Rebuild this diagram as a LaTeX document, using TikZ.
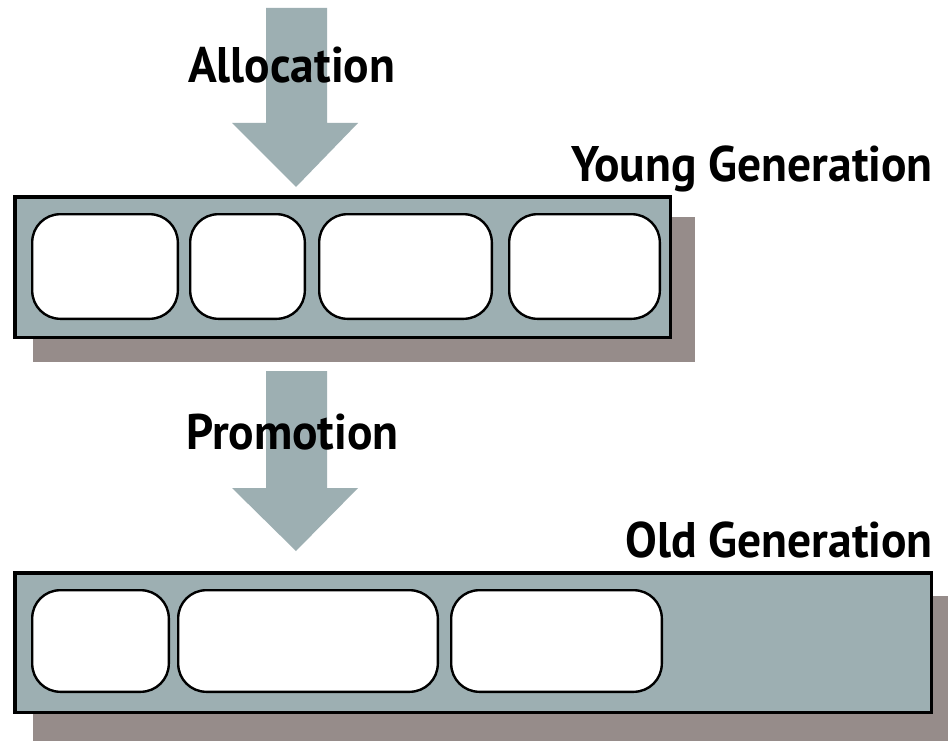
\documentclass[tikz,border=0pt]{standalone}
\usepackage{fontspec}
\setmainfont{PT Sans}[FakeStretch=0.95]
\definecolor{heapfill}{RGB}{157,175,178}
\definecolor{heapshadow}{RGB}{150,140,138}
\begin{document}
\begin{tikzpicture}[x=1pt,y=-1pt,
  genbox/.style={draw=black,line width=3.5pt,fill=heapfill},
  shadowbox/.style={fill=heapshadow},
  cell/.style={draw=black,line width=2.4pt,fill=white,rounded corners=28pt},
  flowarrow/.style={fill=heapfill},
  genlabel/.style={font=\bfseries\fontsize{50}{50}\selectfont,inner sep=0pt,text=black}]
\useasboundingbox (0,0) rectangle (948,741);
\fill[white] (0,0) rectangle (948,741);

% allocation arrow into the young generation
\fill[flowarrow] (266,8) -- (327,8) -- (327,123) -- (358,123) -- (296,187) -- (232,123) -- (266,123) -- cycle;
\node[genlabel,anchor=base west] (alloc) at (188,83) {Allocation};

% young generation
\fill[shadowbox] (33,217) rectangle (695,362);
\draw[genbox] (14.75,196.75) rectangle (670.25,337.25);
\node[genlabel,anchor=base east] (young) at (933,182) {Young Generation};
\draw[cell] (32.2,214.2) rectangle (177.8,318.8);
\draw[cell] (190.2,214.2) rectangle (304.8,318.8);
\draw[cell] (319.2,214.2) rectangle (491.8,318.8);
\draw[cell] (509.2,214.2) rectangle (659.8,318.8);

% promotion arrow into the old generation
\fill[flowarrow] (266,371) -- (327,371) -- (327,488) -- (358,488) -- (296,551) -- (232,488) -- (266,488) -- cycle;
\node[genlabel,anchor=base west] (promo) at (186,449) {Promotion};

% old generation
\fill[shadowbox] (33,596) rectangle (948,741);
\draw[genbox] (14.75,572.75) rectangle (931.25,712.25);
\node[genlabel,anchor=base east] (old) at (933,557) {Old Generation};
\draw[cell] (32.2,590.2) rectangle (168.8,691.8);
\draw[cell] (178.2,590.2) rectangle (437.8,691.8);
\draw[cell] (451.2,590.2) rectangle (661.8,691.8);
\end{tikzpicture}
\end{document}
